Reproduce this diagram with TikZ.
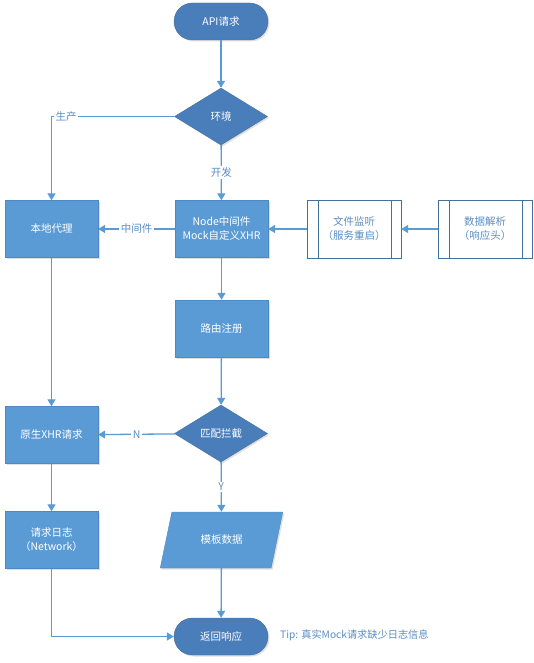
\documentclass[tikz,border=0pt]{standalone}
\usepackage{fontspec}
\setmainfont{Noto Sans CJK SC}
\usetikzlibrary{shapes.geometric,arrows.meta,shadows}
\definecolor{dk}{HTML}{4A7EBB}
\definecolor{dkb}{HTML}{41719C}
\definecolor{lt}{HTML}{5B9BD5}
\definecolor{ltb}{HTML}{4F87C0}
\definecolor{ln}{HTML}{5B9BD5}
\definecolor{tx}{HTML}{5B8EC4}
\tikzset{
  shad/.style={drop shadow={opacity=0.25,shadow xshift=1.5pt,shadow yshift=-1.5pt}},
  term/.style={draw=dkb,fill=dk,text=white,rounded corners=18.5pt,minimum width=94pt,minimum height=37pt,font=\fontsize{10.5}{12}\selectfont,shad},
  dia/.style={diamond,draw=dkb,fill=dk,text=white,minimum width=93pt,minimum height=57pt,aspect=1.63,inner sep=0pt,font=\fontsize{10.5}{12}\selectfont,shad},
  box/.style={draw=ltb,fill=lt,text=white,minimum width=93pt,minimum height=57pt,align=center,font=\fontsize{10.5}{14}\selectfont,shad},
  pbox/.style={draw=dkb,fill=white,text=tx,minimum width=94pt,minimum height=58pt,align=center,font=\fontsize{10.5}{14}\selectfont,
    path picture={\draw[dkb] ([xshift=11pt]path picture bounding box.north west) -- ([xshift=11pt]path picture bounding box.south west);
                  \draw[dkb] ([xshift=-10pt]path picture bounding box.north east) -- ([xshift=-10pt]path picture bounding box.south east);}},
  para/.style={trapezium,trapezium left angle=63,trapezium right angle=117,trapezium stretches=true,draw=ltb,fill=lt,text=white,minimum width=123pt,minimum height=56pt,inner sep=0pt,font=\fontsize{10.5}{12}\selectfont,shad},
  conn/.style={draw=ln,line width=1.3pt,-{Triangle[length=7pt,width=8pt]}},
  lab/.style={fill=white,text=tx,inner sep=1.5pt,font=\fontsize{10.5}{12}\selectfont},
}
\begin{document}
\begin{tikzpicture}[x=1pt,y=-1pt]
\useasboundingbox[fill=white] (0,0) rectangle (534,663);
\node[term] (api) at (221,21.5) {API请求};
\node[dia] (env) at (221,116.5) {环境};
\node[box] (local) at (51.5,229) {本地代理};
\node[box] (mock) at (221.5,229) {Node中间件\\Mock自定义XHR};
\node[pbox] (file) at (354,229) {文件监听\\（服务重启）};
\node[pbox] (data) at (485,229) {数据解析\\（响应头）};
\node[box] (route) at (221.5,328.5) {路由注册};
\node[dia] (match) at (221,433.5) {匹配拦截};
\node[box] (xhr) at (51.5,435) {原生XHR请求};
\node[box] (log) at (51.5,540) {请求日志\\（Network）};
\node[para] (tpl) at (221.5,540) {模板数据};
\node[term] (ret) at (221,636.5) {返回响应};
\node[anchor=west,text=tx,font=\fontsize{10.2}{12}\selectfont,inner sep=0pt] (tip) at (280,635) {Tip: 真实Mock请求缺少日志信息};

\draw[conn] (api) -- (env);
\draw[conn] (env.west) -| node[lab,pos=0.44] {生产} (local.north);
\draw[conn] (env) -- node[lab] {开发} (mock);
\draw[conn] (mock) -- node[lab] {中间件} (local);
\draw[conn] (file) -- (mock);
\draw[conn] (data) -- (file);
\draw[conn] (local) -- (xhr);
\draw[conn] (mock) -- (route);
\draw[conn] (route) -- (match);
\draw[conn] (match) -- node[lab] {N} (xhr);
\draw[conn] (match) -- node[lab] {Y} (tpl);
\draw[conn] (xhr) -- (log);
\draw[conn] (tpl) -- (ret);
\draw[conn] (log.south) |- (ret.west);
\end{tikzpicture}
\end{document}
